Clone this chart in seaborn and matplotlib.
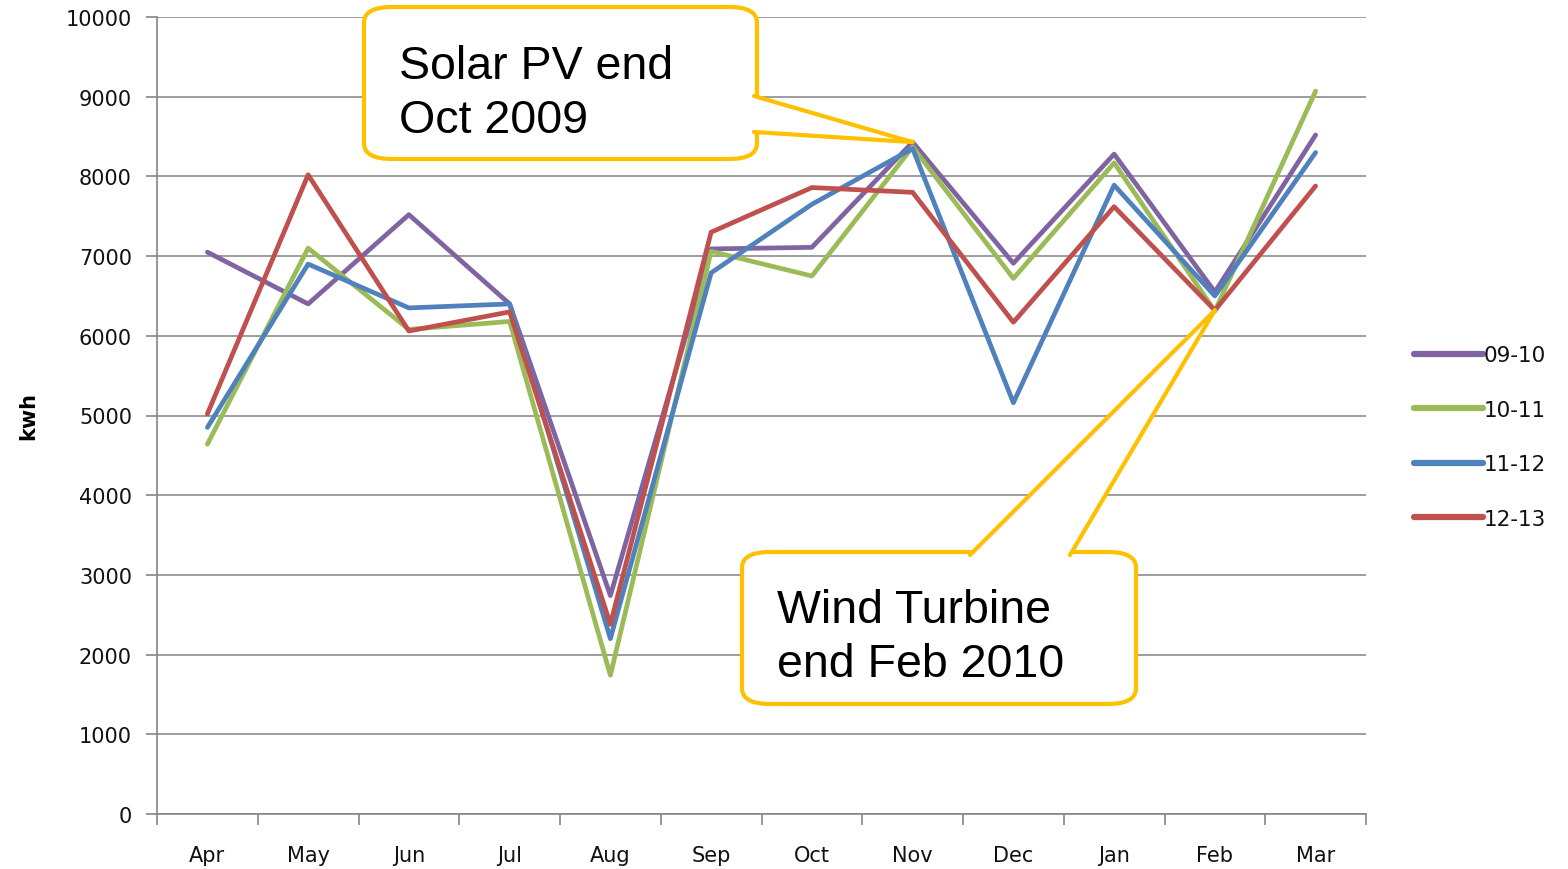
import numpy as np
import pandas as pd
import matplotlib.pyplot as plt
import seaborn as sns
from matplotlib.patches import FancyBboxPatch, Polygon
from matplotlib.lines import Line2D

# data (kwh per month)
months = ["Apr", "May", "Jun", "Jul", "Aug", "Sep", "Oct", "Nov", "Dec", "Jan", "Feb", "Mar"]
s_0910 = [7050, 6400, 7520, 6400, 2740, 7090, 7110, 8430, 6910, 8280, 6550, 8520]
s_1011 = [4640, 7100, 6080, 6180, 1740, 7060, 6750, 8370, 6720, 8170, 6310, 9070]
s_1112 = [4850, 6900, 6350, 6400, 2200, 6790, 7650, 8350, 5160, 7890, 6500, 8300]
s_1213 = [5020, 8020, 6060, 6300, 2380, 7300, 7860, 7800, 6170, 7620, 6320, 7880]
seasons = ["09-10", "10-11", "11-12", "12-13"]
colors = ["#8064A2", "#9BBB59", "#4F81BD", "#C0504D"]

callout_solar = "Solar PV end\nOct 2009"
callout_wind = "Wind Turbine\nend Feb 2010"

rows = []
for name, vals in zip(seasons, [s_0910, s_1011, s_1112, s_1213]):
    for m, v in zip(months, vals):
        rows.append({"month": m, "kwh": v, "season": name})
df = pd.DataFrame(rows)

sns.set_theme(style="white")
plt.rcParams['font.family'] = ['DejaVu Sans']
plt.rcParams['text.color'] = 'black'

W, H = 1568, 870
fig = plt.figure(figsize=(W / 100, H / 100), dpi=100)
ax = fig.add_axes([157 / W, 1 - 815 / H, (1366 - 157) / W, (815 - 18) / H])

sns.lineplot(data=df, x="month", y="kwh", hue="season", palette=colors,
             sort=False, linewidth=3.4, ax=ax, legend=False)

ax.set_xlim(-0.5, len(months) - 0.5)
ax.set_ylim(0, 10000)
ax.set_yticks(np.arange(0, 10001, 1000))
ax.set_xticks(range(len(months)))
ax.set_xticklabels(months)
ax.set_xticks(np.arange(-0.5, len(months), 1), minor=True)
ax.set_xlabel("")
ax.set_ylabel("kwh", fontsize=15, fontweight="bold", labelpad=20, color="black")

ax.grid(axis="y", color="#8c8c8c", linewidth=1.2)
ax.set_axisbelow(True)
for side in ["top", "right"]:
    ax.spines[side].set_visible(False)
for side in ["left", "bottom"]:
    ax.spines[side].set_color("#868686")
    ax.spines[side].set_linewidth(1.2)

ax.tick_params(axis="y", which="major", left=True, length=8, width=1.2,
               color="#868686", labelsize=15, labelcolor="#111111", pad=10)
ax.tick_params(axis="x", which="major", bottom=False, labelsize=15,
               labelcolor="#111111", pad=16)
ax.tick_params(axis="x", which="minor", bottom=True, length=8, width=1.2,
               color="#868686")

# legend
handles = [Line2D([], [], color=c, lw=4.5) for c in colors]
leg = fig.legend(handles, seasons, loc="center left", bbox_to_anchor=(1403 / W, 1 - 438 / H),
                 frameon=False, fontsize=15.5, handlelength=3.2, handletextpad=0.05,
                 labelspacing=1.6, borderpad=0)
for t in leg.get_texts():
    t.set_color("#111111")

# callouts
fig.canvas.draw()
to_fig = fig.transFigure.inverted()


def px(x, y):
    return (x / W, 1 - y / H)


def data_px(i, v):
    fx, fy = to_fig.transform(ax.transData.transform((i, v)))
    return (fx, fy)


yellow = "#FFC000"


def callout(x0, y0, x1, y1, base_a, base_b, tip, text, text_y):
    box = FancyBboxPatch(px(x0, y1), (x1 - x0) / W, (y1 - y0) / H,
                         boxstyle="round,pad=0,rounding_size=0.018",
                         transform=fig.transFigure, facecolor="white",
                         edgecolor=yellow, linewidth=3, zorder=10)
    fig.add_artist(box)
    wedge = Polygon([base_a, tip, base_b], closed=True, transform=fig.transFigure,
                    facecolor="white", edgecolor="none", zorder=11)
    fig.add_artist(wedge)
    for b in (base_a, base_b):
        fig.add_artist(Line2D([b[0], tip[0]], [b[1], tip[1]], transform=fig.transFigure,
                              color=yellow, lw=3, zorder=12, solid_capstyle="round"))
    fig.text(px(x0 + 35, 0)[0], px(0, text_y)[1], text, fontsize=33.5,
             family="Liberation Sans", va="center", ha="left", zorder=13,
             linespacing=1.3, color="black")


nov = months.index("Nov")
feb = months.index("Feb")
callout(364, 8, 757, 160, px(754, 97), px(754, 133),
        data_px(nov, s_0910[nov]), callout_solar, 94)
callout(742, 553, 1136, 705, px(970, 556), px(1070, 556),
        data_px(feb, s_1213[feb]), callout_wind, 638)

fig.savefig("out.png", dpi=100)
